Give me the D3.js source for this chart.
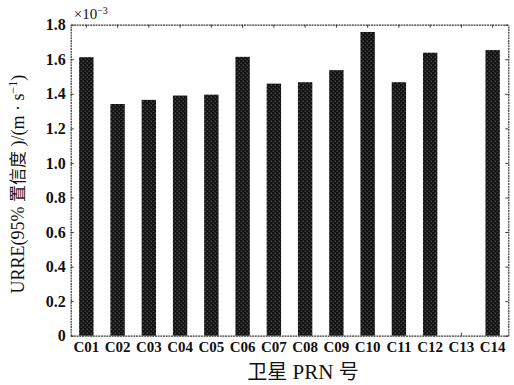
<!DOCTYPE html>
<html>
<head>
<meta charset="utf-8">
<script src="https://cdn.jsdelivr.net/npm/d3@7"></script>
<style>
  html, body { margin: 0; padding: 0; background: #fff; }
  svg { display: block; }
</style>
</head>
<body>
<div id="chart"></div>
<script>
// BeiDou satellites and their URRE at 95% confidence (×10^-3 m/s)
const satellites = ["C01","C02","C03","C04","C05","C06","C07","C08","C09","C10","C11","C12","C13","C14"];
const urre95 = [1.612, 1.341, 1.365, 1.390, 1.395, 1.614, 1.459, 1.467, 1.537, 1.758, 1.467, 1.638, 0, 1.653];
const yTicks = [0, 0.2, 0.4, 0.6, 0.8, 1.0, 1.2, 1.4, 1.6, 1.8];
const yTickLabels = ["0", "0.2", "0.4", "0.6", "0.8", "1.0", "1.2", "1.4", "1.6", "1.8"];

const W = 514, H = 385;
const m = { left: 70.7, right: 5.7, top: 24.7, bottom: 49.3 };
const iw = W - m.left - m.right, ih = H - m.top - m.bottom;

const svg = d3.select("#chart").append("svg")
  .attr("width", W).attr("height", H);

// dithered dark fill for the bars
const defs = svg.append("defs");
const pat = defs.append("pattern")
  .attr("id", "dots").attr("patternUnits", "userSpaceOnUse")
  .attr("width", 4).attr("height", 4);
pat.append("rect").attr("width", 4).attr("height", 4).attr("fill", "#121212");
pat.append("rect").attr("x", 0).attr("y", 0).attr("width", 1).attr("height", 1).attr("fill", "#8a8a8a");
pat.append("rect").attr("x", 2).attr("y", 2).attr("width", 1).attr("height", 1).attr("fill", "#6e6e6e");

const g = svg.append("g").attr("transform", `translate(${m.left},${m.top})`);

const x = d3.scaleBand().domain(satellites).range([0, iw]).paddingInner(0.54).paddingOuter(0.27);
const y = d3.scaleLinear().domain([0, 1.8]).range([ih, 0]);

// bars (C13 has no value and stays empty)
g.selectAll("rect.bar").data(satellites.map((s, i) => ({ s, v: urre95[i] })).filter(d => d.v > 0))
  .enter().append("rect").attr("class", "bar")
  .attr("x", d => x(d.s)).attr("width", x.bandwidth())
  .attr("y", d => y(d.v)).attr("height", d => ih - y(d.v))
  .attr("fill", "url(#dots)");

const tickFmt = d => yTickLabels[yTicks.indexOf(d)];

// left axis: inward ticks with labels
const axLeft = g.append("g")
  .call(d3.axisLeft(y).tickValues(yTicks).tickFormat(tickFmt).tickSizeInner(-3).tickSizeOuter(0).tickPadding(5));
// right axis: inward ticks, no labels
const axRight = g.append("g").attr("transform", `translate(${iw},0)`)
  .call(d3.axisRight(y).tickValues(yTicks).tickFormat("").tickSizeInner(-3).tickSizeOuter(0));
// bottom axis with satellite labels
const axBottom = g.append("g").attr("transform", `translate(0,${ih})`)
  .call(d3.axisBottom(x).tickSizeInner(-3).tickSizeOuter(0).tickPadding(6));
// top axis: inward ticks only
const axTop = g.append("g")
  .call(d3.axisTop(x).tickFormat("").tickSizeInner(-3).tickSizeOuter(0));

[axLeft, axRight, axBottom, axTop].forEach(a => {
  a.select(".domain").attr("stroke", "#3a3a3a").attr("stroke-width", 1.2).attr("stroke-dasharray", "2,0.7");
  a.selectAll(".tick line").attr("stroke", "#222").attr("stroke-width", 0.9);
});
axLeft.selectAll(".tick text")
  .attr("font-size", 16).attr("font-weight", "bold").attr("fill", "#111")
  .attr("font-family", "Liberation Serif, serif");
axBottom.selectAll(".tick text")
  .attr("font-size", 15).attr("font-weight", "bold").attr("fill", "#111")
  .attr("font-family", "Liberation Serif, serif");

// exponent marker above the axis
const expo = svg.append("text")
  .attr("x", m.left + 3).attr("y", 19)
  .attr("font-size", 15).attr("fill", "#111")
  .attr("font-family", "Liberation Serif, serif");
expo.append("tspan").text("×10");
expo.append("tspan").attr("dy", -5).attr("font-size", 10).text("−3");

// y-axis title
const yt = svg.append("text")
  .attr("transform", `translate(24,${m.top + ih / 2 + 4}) rotate(-90)`)
  .attr("text-anchor", "middle")
  .attr("font-size", 18).attr("fill", "#111")
  .attr("font-family", "Liberation Serif, 'Noto Sans CJK SC', serif");
yt.append("tspan").text("URRE(95% ");
yt.append("tspan").attr("font-family", "Noto Sans CJK SC").attr("font-size", 17).text("置信度");
yt.append("tspan").text(" )/(m · s");
yt.append("tspan").attr("dy", -7).attr("font-size", 12).text("−1");
yt.append("tspan").attr("dy", 7).text(")");

// x-axis title
const xt = svg.append("text")
  .attr("x", 303).attr("y", 379)
  .attr("text-anchor", "middle")
  .attr("font-size", 21).attr("fill", "#111")
  .attr("font-family", "Liberation Serif, 'Noto Sans CJK SC', serif");
xt.append("tspan").attr("font-family", "Noto Sans CJK SC").attr("font-size", 20).text("卫星");
xt.append("tspan").text(" PRN ");
xt.append("tspan").attr("font-family", "Noto Sans CJK SC").attr("font-size", 20).text("号");
</script>
</body>
</html>
